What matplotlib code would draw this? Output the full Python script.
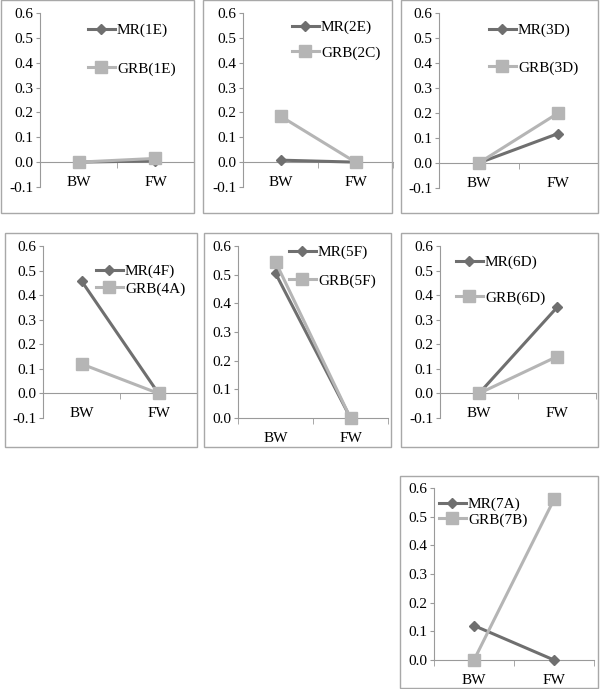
import matplotlib
matplotlib.use("Agg")
import matplotlib.pyplot as plt
from matplotlib.patches import Rectangle

plt.rcParams['font.family'] = ['Liberation Serif', 'DejaVu Serif']
plt.rcParams['axes.unicode_minus'] = False

categories = ['BW', 'FW']
mr_labels = ['MR(1E)', 'MR(2E)', 'MR(3D)', 'MR(4F)', 'MR(5F)', 'MR(6D)', 'MR(7A)']
grb_labels = ['GRB(1E)', 'GRB(2C)', 'GRB(3D)', 'GRB(4A)', 'GRB(5F)', 'GRB(6D)', 'GRB(7B)']
mr_values = [[0.0, 0.005], [0.008, 0.0], [0.0, 0.118], [0.458, 0.0],
             [0.505, 0.0], [0.0, 0.35], [0.12, 0.0]]
grb_values = [[0.0, 0.015], [0.185, 0.0], [0.0, 0.2], [0.12, 0.0],
              [0.545, 0.0], [0.0, 0.15], [0.0, 0.56]]
y_min = [-0.1, -0.1, -0.1, -0.1, 0.0, -0.1, 0.0]
y_ticks = [-0.1, 0.0, 0.1, 0.2, 0.3, 0.4, 0.5, 0.6]

W, H = 600, 689
MR_COLOR = '#6f6f6f'
GRB_COLOR = '#b5b5b5'
AXIS_COLOR = '#9a9a9a'
FS = 11

# layout in pixels: frame box (l, t, r, b), plot area (l, r, y_top, y_bottom),
# legend (handle left x, first row center y, labelspacing)
frames = [(1, 0, 194, 213), (203, 0, 392, 213), (401, 0, 598, 213),
          (5, 233, 197, 447), (204, 233, 391, 447), (401, 233, 598, 447),
          (400, 476, 598, 688)]
plots = [(40, 194, 13, 187), (243, 393, 13, 187), (439, 598, 13, 188),
         (43, 197, 246, 418), (238, 388, 246, 418), (440, 596, 246, 418),
         (434, 594, 488, 660)]
legends = [(88, 28, 1.6), (292, 25, 0.75), (489, 28, 1.54),
           (96, 269, 0.23), (289, 250, 0.95), (456, 260, 1.4),
           (439, 502, 0.1)]

fig = plt.figure(figsize=(W / 100, H / 100), dpi=100)

for i in range(7):
    fl, ft, fr, fb = frames[i]
    fig.add_artist(Rectangle((fl / W, 1 - fb / H), (fr - fl) / W, (fb - ft) / H,
                             transform=fig.transFigure, fill=False,
                             edgecolor='#a8a8a8', linewidth=1.0))

    pl, pr, pt, pb = plots[i]
    ax = fig.add_axes([pl / W, 1 - pb / H, (pr - pl) / W, (pb - pt) / H])
    x = [0.5, 1.5]
    ax.plot(x, mr_values[i], color=MR_COLOR, lw=2.2, marker='D', ms=5.5,
            label=mr_labels[i], clip_on=False, zorder=3)
    ax.plot(x, grb_values[i], color=GRB_COLOR, lw=2.2, marker='s', ms=8,
            label=grb_labels[i], clip_on=False, zorder=4)

    ax.set_xlim(0, 2)
    ax.set_ylim(y_min[i], 0.6)
    ax.set_yticks([t for t in y_ticks if t >= y_min[i] - 1e-9])
    ax.set_yticklabels(['%.1f' % t for t in y_ticks if t >= y_min[i] - 1e-9])
    ax.set_xticks(x)
    ax.set_xticklabels(categories)
    ax.set_xticks([0, 1, 2], minor=True)

    for s in ['top', 'right']:
        ax.spines[s].set_visible(False)
    ax.spines['left'].set_color(AXIS_COLOR)
    ax.spines['bottom'].set_color(AXIS_COLOR)
    ax.spines['bottom'].set_position(('data', 0))
    ax.patch.set_alpha(0)

    ax.tick_params(axis='y', direction='out', length=3, color=AXIS_COLOR,
                   labelsize=FS, pad=2)
    ax.tick_params(axis='x', which='major', length=0, labelsize=FS, pad=10)
    ax.tick_params(axis='x', which='minor', direction='out', length=4,
                   color=AXIS_COLOR)

    lx, ly, sp = legends[i]
    ax.legend(loc='upper left', bbox_to_anchor=(lx / W, 1 - (ly - 4.5) / H),
              bbox_transform=fig.transFigure, frameon=False, borderpad=0,
              borderaxespad=0, labelspacing=sp, handlelength=1.75,
              handletextpad=0.15, fontsize=FS, numpoints=1)

plt.savefig('out.png', dpi=100)
plt.close()
